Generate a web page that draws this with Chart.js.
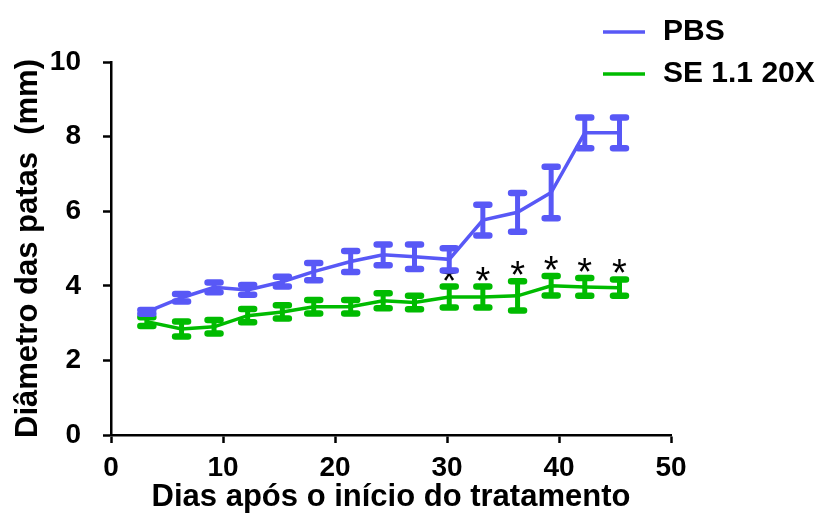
<!DOCTYPE html>
<html>
<head>
<meta charset="utf-8">
<script src="https://cdn.jsdelivr.net/npm/chart.js@4/dist/chart.umd.min.js"></script>
<style>
  html, body { margin: 0; padding: 0; background: #ffffff; }
  #wrap { width: 824px; height: 516px; position: relative; }
</style>
</head>
<body>
<div id="wrap"><canvas id="chart" width="824" height="516"></canvas></div>
<script>
// Days after the start of treatment
const days = [3.2, 6.3, 9.2, 12.2, 15.3, 18.1, 21.4, 24.3, 27.1, 30.2, 33.2, 36.3, 39.3, 42.3, 45.4];

// Paw diameter (mm), mean and error per day
const pbsMean = [3.30, 3.68, 3.96, 3.89, 4.11, 4.38, 4.65, 4.83, 4.78, 4.71, 5.76, 5.97, 6.50, 8.10, 8.10];
const pbsErr  = [0.05, 0.10, 0.13, 0.13, 0.13, 0.23, 0.28, 0.28, 0.33, 0.30, 0.41, 0.52, 0.69, 0.41, 0.41];
const seMean  = [3.04, 2.84, 2.90, 3.20, 3.30, 3.44, 3.44, 3.60, 3.55, 3.70, 3.70, 3.73, 4.00, 3.97, 3.95];
const seErr   = [0.12, 0.20, 0.18, 0.18, 0.18, 0.18, 0.18, 0.20, 0.18, 0.28, 0.28, 0.39, 0.26, 0.24, 0.22];

// Days where SE 1.1 20X differs significantly from PBS
const significant = [false, false, false, false, false, false, false, false, false, true, true, true, true, true, true];

const seriesNames = ['PBS', 'SE 1.1 20X'];
const xTicks = [0, 10, 20, 30, 40, 50];
const yTicks = [0, 2, 4, 6, 8, 10];

const BLUE = '#5858f6';
const GREEN = '#00bb00';
const FONT = '"Liberation Sans", Arial, Helvetica, sans-serif';

function toPoints(xs, ys) {
  return xs.map((x, i) => ({ x: x, y: ys[i] }));
}

// Vertical error bars with rounded caps, plus significance asterisks
const errorBars = {
  id: 'errorBars',
  afterDatasetsDraw(chart) {
    const ctx = chart.ctx;
    const xs = chart.scales.x, ys = chart.scales.y;
    chart.data.datasets.forEach((ds) => {
      const errs = ds.errors;
      ctx.save();
      ctx.strokeStyle = ds.borderColor;
      ds.data.forEach((p, i) => {
        const px = xs.getPixelForValue(p.x);
        const top = ys.getPixelForValue(p.y + errs[i]);
        const bot = ys.getPixelForValue(p.y - errs[i]);
        ctx.lineWidth = 5;
        ctx.lineCap = 'butt';
        ctx.beginPath();
        ctx.moveTo(px, top);
        ctx.lineTo(px, bot);
        ctx.stroke();
        ctx.lineWidth = 6.5;
        ctx.lineCap = 'round';
        ctx.beginPath();
        ctx.moveTo(px - 6.5, top);
        ctx.lineTo(px + 6.5, top);
        ctx.moveTo(px - 6.5, bot);
        ctx.lineTo(px + 6.5, bot);
        ctx.stroke();
      });
      ctx.restore();
      if (ds.marks) {
        ctx.save();
        ctx.fillStyle = '#000000';
        ctx.font = '38px ' + FONT;
        ctx.textAlign = 'center';
        ctx.textBaseline = 'alphabetic';
        ds.data.forEach((p, i) => {
          if (!ds.marks[i]) return;
          const px = xs.getPixelForValue(p.x);
          const top = ys.getPixelForValue(p.y + errs[i]);
          ctx.fillText('*', px, top + 7);
        });
        ctx.restore();
      }
    });
  }
};

// Legend drawn in the top-right corner
const cornerLegend = {
  id: 'cornerLegend',
  afterDraw(chart) {
    const ctx = chart.ctx;
    const colors = [BLUE, GREEN];
    const rows = [31, 73];
    ctx.save();
    ctx.font = 'bold 30px ' + FONT;
    ctx.textBaseline = 'middle';
    ctx.textAlign = 'left';
    seriesNames.forEach((name, i) => {
      ctx.strokeStyle = colors[i];
      ctx.lineWidth = 3.5;
      ctx.beginPath();
      ctx.moveTo(603, rows[i] + 1);
      ctx.lineTo(645, rows[i] + 1);
      ctx.stroke();
      ctx.fillStyle = '#000000';
      ctx.fillText(name, 663, rows[i] + 1);
    });
    ctx.restore();
  }
};

const axisCommon = {
  type: 'linear',
  grid: {
    display: true,
    drawOnChartArea: false,
    drawTicks: true,
    tickLength: 8,
    tickWidth: 2.5,
    tickColor: '#000000'
  },
  border: { display: true, color: '#000000', width: 2.5 }
};

new Chart(document.getElementById('chart'), {
  type: 'line',
  data: {
    datasets: [
      {
        label: seriesNames[1],
        data: toPoints(days, seMean),
        errors: seErr,
        marks: significant,
        borderColor: GREEN,
        backgroundColor: GREEN,
        borderWidth: 3.5,
        pointRadius: 0,
        tension: 0,
        order: 0
      },
      {
        label: seriesNames[0],
        data: toPoints(days, pbsMean),
        errors: pbsErr,
        borderColor: BLUE,
        backgroundColor: BLUE,
        borderWidth: 3.5,
        pointRadius: 0,
        tension: 0,
        order: 1
      }
    ]
  },
  options: {
    responsive: false,
    animation: false,
    events: [],
    layout: { padding: { left: 0, top: 62, right: 153, bottom: 0 } },
    plugins: { legend: { display: false }, tooltip: { enabled: false } },
    scales: {
      x: Object.assign({}, axisCommon, {
        min: 0, max: 50,
        afterBuildTicks(scale) { scale.ticks = xTicks.map(v => ({ value: v })); },
        afterFit(scale) { scale.height = 81; },
        ticks: {
          color: '#000000',
          padding: 8,
          maxRotation: 0,
          font: { family: FONT, size: 28, weight: 'bold' }
        },
        title: {
          display: true,
          text: 'Dias após o início do tratamento',
          color: '#000000',
          padding: { top: 0, bottom: 0 },
          font: { family: FONT, size: 31, weight: 'bold' }
        }
      }),
      y: Object.assign({}, axisCommon, {
        min: 0, max: 10,
        afterBuildTicks(scale) { scale.ticks = yTicks.map(v => ({ value: v })); },
        afterFit(scale) { scale.width = 111; },
        ticks: {
          color: '#000000',
          padding: 22,
          font: { family: FONT, size: 28, weight: 'bold' }
        },
        title: {
          display: true,
          text: 'Diâmetro das patas  (mm)',
          color: '#000000',
          padding: { top: 10, bottom: 0 },
          font: { family: FONT, size: 31, weight: 'bold' }
        }
      })
    }
  },
  plugins: [errorBars, cornerLegend]
});
</script>
</body>
</html>
